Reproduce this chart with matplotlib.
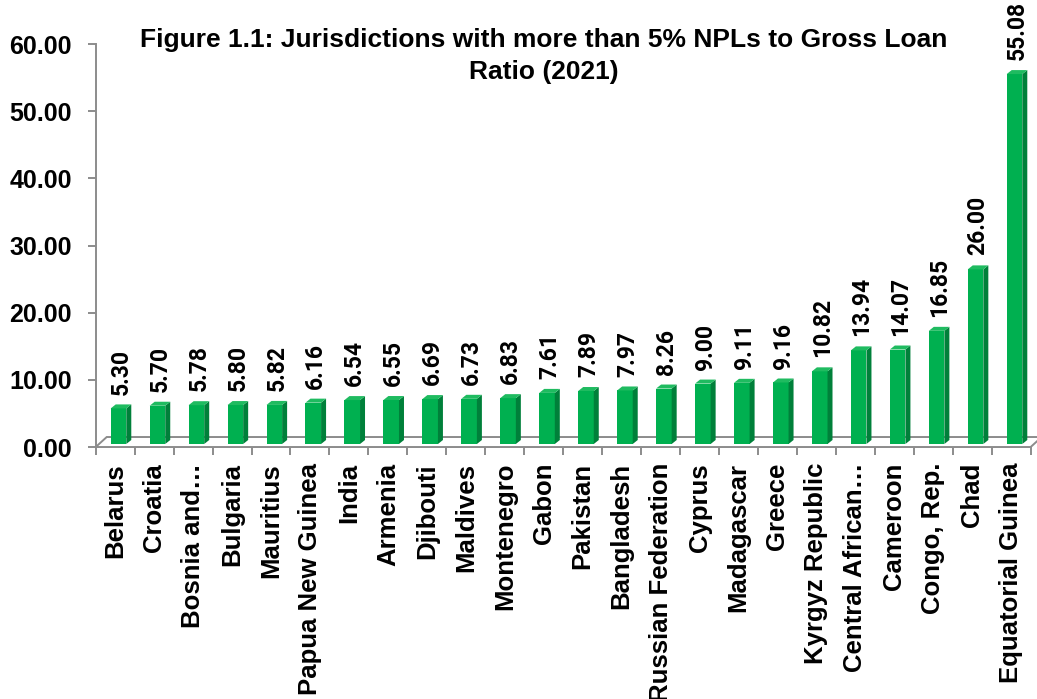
import matplotlib.pyplot as plt
from matplotlib.patches import Polygon
from matplotlib.ticker import FormatStrFormatter, FixedLocator

countries = ["Belarus", "Croatia", "Bosnia and\u2026", "Bulgaria", "Mauritius",
             "Papua New Guinea", "India", "Armenia", "Djibouti", "Maldives",
             "Montenegro", "Gabon", "Pakistan", "Bangladesh", "Russian Federation",
             "Cyprus", "Madagascar", "Greece", "Kyrgyz Republic", "Central African\u2026",
             "Cameroon", "Congo, Rep.", "Chad", "Equatorial Guinea"]
npl_ratio = [5.30, 5.70, 5.78, 5.80, 5.82, 6.16, 6.54, 6.55, 6.69, 6.73, 6.83, 7.61,
             7.89, 7.97, 8.26, 9.00, 9.11, 9.16, 10.82, 13.94, 14.07, 16.85, 26.00, 55.08]

front_col = "#00b050"
side_col = "#00803a"
top_col = "#1fbb60"
axis_col = "#8c8c8c"

fig = plt.figure(figsize=(10.37, 6.99), dpi=100)
ax = fig.add_axes([0.0923, 0.3605, 0.9016, 0.5765])
n = len(countries)
ax.set_xlim(-0.5, n - 0.5)
ax.set_ylim(0, 60)

# pixel -> data unit conversion for the fake 3d depth
fig.canvas.draw()
bb = ax.get_window_extent()
px_x = (n) / bb.width
px_y = 60.0 / bb.height

# floor of the chart
fdx, fdy = 11 * px_x, 10 * px_y
floor = Polygon([(-0.5, 0), (n - 0.5, 0), (n - 0.5 + fdx, fdy), (-0.5 + fdx, fdy)],
                closed=True, facecolor="white", edgecolor=axis_col, lw=1.4,
                clip_on=False, zorder=1)
ax.add_patch(floor)

# bars: front face + side + top
shift = 3.3 * px_x
w = 0.4
ddx, ddy = 5 * px_x, 4 * px_y
base = 3 * px_y
for i, v in enumerate(npl_ratio):
    x0 = i + shift - w / 2
    x1 = x0 + w
    b, t = base, base + v
    ax.add_patch(Polygon([(x0, b), (x1, b), (x1, t), (x0, t)], closed=True,
                         facecolor=front_col, edgecolor="none", zorder=3, clip_on=False))
    ax.add_patch(Polygon([(x1, b), (x1 + ddx, b + ddy), (x1 + ddx, t + ddy), (x1, t)],
                         closed=True, facecolor=side_col, edgecolor="none", zorder=3,
                         clip_on=False))
    ax.add_patch(Polygon([(x0, t), (x1, t), (x1 + ddx, t + ddy), (x0 + ddx, t + ddy)],
                         closed=True, facecolor=top_col, edgecolor="none", zorder=3,
                         clip_on=False))
    ax.annotate(f"{v:.2f}", xy=(i + shift + ddx / 2, t), xytext=(0, 10),
                textcoords="offset points", rotation=90, ha="center", va="bottom",
                fontsize=16.5, fontweight="bold", family="Roboto", annotation_clip=False)

for s in ["top", "right"]:
    ax.spines[s].set_visible(False)
ax.spines["left"].set_color(axis_col)
ax.spines["left"].set_linewidth(1.4)
ax.spines["bottom"].set_visible(False)

ax.set_yticks(range(0, 61, 10))
ax.yaxis.set_major_formatter(FormatStrFormatter("%.2f"))
ax.tick_params(axis="y", length=5.8, width=1.4, color=axis_col, pad=11.5,
               labelsize=18)
for lbl in ax.get_yticklabels():
    lbl.set_fontweight("bold")
    lbl.set_family("Liberation Sans")

ax.set_xticks(range(n))
ax.set_xticklabels(countries, rotation=90, fontsize=18.5, fontweight="bold",
                   family="Liberation Sans")
ax.xaxis.set_minor_locator(FixedLocator([k - 0.5 for k in range(n + 1)]))
ax.tick_params(axis="x", which="major", length=0, pad=11.5)
ax.tick_params(axis="x", which="minor", length=5.8, width=1.4, color=axis_col)

fig.text(544 / 1037, 1 - 28 / 699,
         "Figure 1.1: Jurisdictions with more than 5% NPLs to Gross Loan\nRatio (2021)",
         ha="center", va="top", fontsize=19, fontweight="bold",
         family="Liberation Sans", linespacing=1.42)

fig.savefig("out.png", dpi=100)
